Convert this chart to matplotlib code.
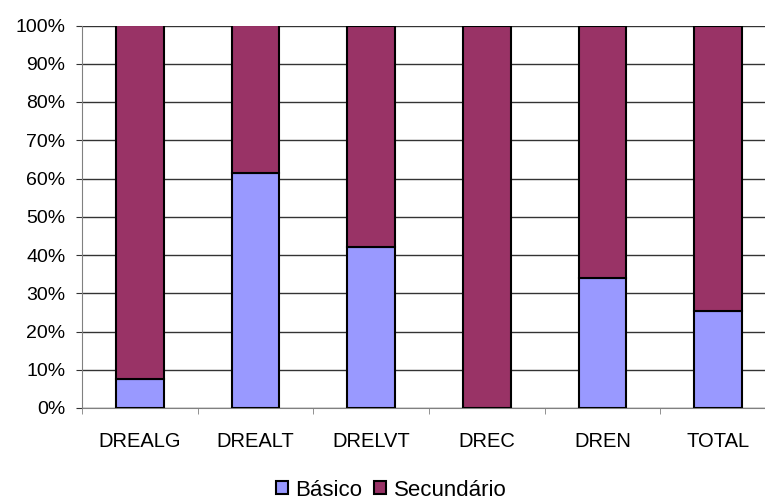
import matplotlib
matplotlib.use("Agg")
import matplotlib.pyplot as plt
import numpy as np

categories = ["DREALG", "DREALT", "DRELVT", "DREC", "DREN", "TOTAL"]
basico = [7.6, 61.4, 42.1, 0.0, 33.9, 25.4]
secundario = [100 - b for b in basico]
yticks = [0, 10, 20, 30, 40, 50, 60, 70, 80, 90, 100]

plt.rcParams['font.family'] = ['Liberation Sans', 'DejaVu Sans']

fig = plt.figure(figsize=(7.65, 4.99), dpi=100)
ax = fig.add_axes([82/765, 91/499, 694/765, 382.5/499])

x = np.arange(len(categories))
w = 0.41
ax.bar(x, basico, w, color='#9999FF', edgecolor='black', linewidth=1.5, label='Básico', zorder=3)
ax.bar(x, secundario, w, bottom=basico, color='#993366', edgecolor='black', linewidth=1.5, label='Secundário', zorder=3)

ax.set_xlim(-0.5, len(categories) - 0.5)
ax.set_ylim(0, 100)
ax.set_yticks(yticks)
ax.set_yticklabels([f"{v}%" for v in yticks], fontsize=14)
ax.yaxis.grid(True, color='#333333', linewidth=1)
ax.set_axisbelow(True)

ax.set_xticks(x)
ax.set_xticklabels(categories, fontsize=14.5)
ax.set_xticks(np.arange(len(categories) + 1) - 0.5, minor=True)
ax.tick_params(axis='x', which='major', length=0, pad=17)
ax.tick_params(axis='x', which='minor', length=4, color='#808080', direction='out')
ax.tick_params(axis='y', length=4, color='#333333', pad=8)

for s in ['top', 'right']:
    ax.spines[s].set_visible(False)
ax.spines['left'].set_color('#808080')
ax.spines['bottom'].set_color('#808080')

fig.legend(loc='center', bbox_to_anchor=(391/765, 1 - 490/499), ncol=2, frameon=False,
           fontsize=16, handlelength=0.55, handleheight=0.55, handletextpad=0.35, columnspacing=0.5,
           borderaxespad=0, borderpad=0)

fig.savefig("out.png", dpi=100)
